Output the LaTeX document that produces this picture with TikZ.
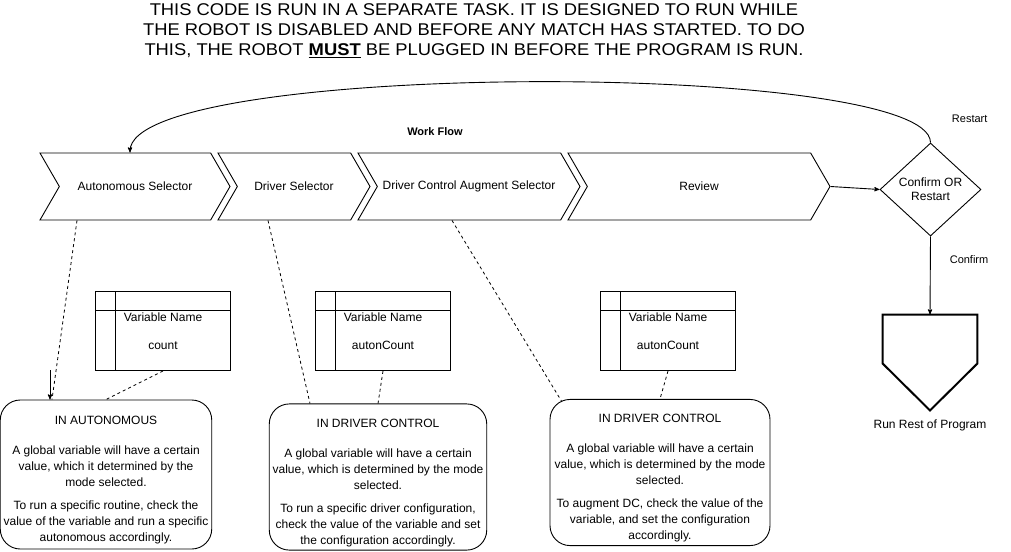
\documentclass[tikz,border=0pt]{standalone}
\usepackage{fontspec}
\setmainfont{Liberation Sans}
\newfontfamily\headfont[FakeStretch=1.08]{Liberation Sans}
\usetikzlibrary{arrows,shapes.symbols,shapes.geometric,positioning}
\newcommand{\notehead}[1]{\rule{0pt}{20pt}#1}

\begin{document}
\begin{tikzpicture}[x=1pt, y=-1pt, line width=0.9pt, >=stealth',
    font=\fontsize{12}{16}\selectfont,
    every node/.style = {align=center},
    stage/.style = {draw, signal, signal to=east, signal from=west,
        signal pointer angle=120, minimum height=67pt, minimum width=#1},
    vartab/.style = {draw, minimum width=135pt, minimum height=79pt},
    note/.style = {draw, rounded corners=20pt},
    lbl/.style = {font=\fontsize{11}{13}\selectfont, inner sep=0pt},
    link/.style = {dash pattern=on 3pt off 3pt, line width=0.8pt}]
\useasboundingbox (0,0) rectangle (1011,551);

\node (title) at (474,31) [font=\headfont\fontsize{17}{20}\selectfont]
    {THIS CODE IS RUN IN A SEPARATE TASK. IT IS DESIGNED TO RUN WHILE\\
     THE ROBOT IS DISABLED AND BEFORE ANY MATCH HAS STARTED. TO DO\\
     THIS, THE ROBOT \textbf{\underline{MUST}} BE PLUGGED IN BEFORE THE PROGRAM IS RUN.};
\node (flow) at (435,132) [lbl, font=\fontsize{11}{13}\selectfont\bfseries] {Work Flow};

\node (auto) at (135,186.5) [stage=190pt] {Autonomous Selector};
\node (drv)  at (294,186.5) [stage=152pt] {Driver Selector};
\node (aug)  at (469,186.5) [stage=222pt] {Driver Control Augment Selector};
\node (rev)  at (699,186.5) [stage=262pt] {Review};

\node (dec) at (930.5,189.5) [draw, diamond, aspect=1.09, inner sep=0pt,
    minimum width=101pt, minimum height=93pt,
    font=\fontsize{12}{14}\selectfont] {Confirm OR\\Restart};
\node (restart) [lbl, above right=19pt and 21pt of dec.north] {Restart};
\node (rest) at (930,362.5) [minimum width=94pt, minimum height=95pt] {};
\draw[line width=2pt] (rest.north west) -- (rest.north east)
    -- ([yshift=47pt]rest.south east) -- (rest.south)
    -- ([yshift=47pt]rest.south west) -- cycle;
\node (restlbl) [below=6pt of rest] {Run Rest of Program};

\node (tab1) at (163,331) [vartab] {Variable Name\\[12pt]count};
\node (tab2) at (383,331) [vartab] {Variable Name\\[12pt]autonCount};
\node (tab3) at (668,331) [vartab] {Variable Name\\[12pt]autonCount};
\foreach \t in {tab1,tab2,tab3}
    \draw ([yshift=-19pt]\t.north west) -- ([yshift=-19pt]\t.north east)
          ([xshift=20pt]\t.north west) -- ([xshift=20pt]\t.south west);

\node (autobox) at (106,474.5) [note, minimum width=210pt, minimum height=149pt]
    {\notehead{IN AUTONOMOUS}\\[14pt]
     A global variable will have a certain\\
     value, which it determined by the\\
     mode selected.\\[7pt]
     To run a specific routine, check the\\
     value of the variable and run a specific\\
     autonomous accordingly.};
\node (drvbox) at (378,477) [note, minimum width=216pt, minimum height=144pt]
    {\notehead{IN DRIVER CONTROL}\\[14pt]
     A global variable will have a certain\\
     value, which is determined by the mode\\
     selected.\\[7pt]
     To run a specific driver configuration,\\
     check the value of the variable and set\\
     the configuration accordingly.};
\node (augbox) at (660,472.5) [note, minimum width=220pt, minimum height=145pt]
    {\notehead{IN DRIVER CONTROL}\\[14pt]
     A global variable will have a certain\\
     value, which is determined by the mode\\
     selected.\\[7pt]
     To augment DC, check the value of the\\
     variable, and set the configuration\\
     accordingly.};

\draw[->] (rev.east) -- (dec.west);
\draw[->] (dec.south) -- node[lbl, pos=0.3, right=19pt] {Confirm} (rest.north);
\draw[->] (dec.north) .. controls (930,60) and (130,60) .. ([xshift=-5pt]auto.north);

\coordinate (hint) at (50,370);
\draw[->] (hint) -- ([xshift=-56pt]autobox.north);
\draw[link] ([xshift=-58pt]auto.south) -- ([xshift=-54pt]autobox.north);
\draw[link] (tab1.south) -- (autobox.north);
\draw[link] ([xshift=-26pt]drv.south) -- ([xshift=-68pt]drvbox.north);
\draw[link] (tab2.south) -- (drvbox.north);
\draw[link] ([xshift=-17pt]aug.south) -- ([xshift=-98pt,yshift=-3pt]augbox.north);
\draw[link] (tab3.south) -- (augbox.north);
\end{tikzpicture}
\end{document}
